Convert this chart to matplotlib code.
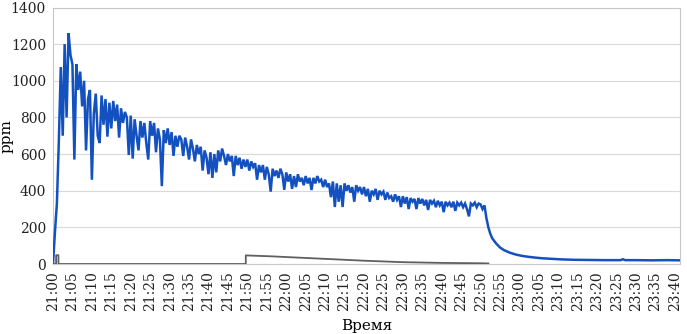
import numpy as np
import matplotlib
matplotlib.use('Agg')
import matplotlib.pyplot as plt

# ── Time axis: minutes after 21:00 ───────────────────────────────────────────
TICK_MINUTES = list(range(0, 161, 5))
TICK_LABELS = [f'{21 + (m // 60)}:{m % 60:02d}' for m in TICK_MINUTES]

# ── CO2, noisy part (one reading every half minute, 21:00 – 22:51:30) ───────
CO2_STEP = 0.5
CO2_NOISY = [
    0, 175, 330, 670, 1075, 700, 1200, 800, 1260, 1140,
    1090, 570, 1090, 950, 1050, 860, 1000, 620, 900, 950,
    460, 820, 930, 700, 660, 920, 760, 900, 695, 880,
    740, 890, 780, 870, 690, 850, 770, 830, 800, 595,
    810, 575, 790, 700, 620, 780, 690, 770, 660, 570,
    780, 700, 770, 610, 740, 680, 425, 730, 660, 740,
    650, 720, 590, 700, 640, 700, 680, 590, 690, 640,
    570, 680, 630, 560, 650, 600, 640, 510, 620, 580,
    490, 610, 470, 600, 500, 620, 560, 630, 590, 540,
    600, 560, 590, 480, 590, 540, 580, 520, 570, 530,
    570, 510, 560, 530, 550, 460, 540, 500, 540, 460,
    530, 490, 395, 520, 480, 510, 470, 520, 490, 405,
    500, 450, 490, 410, 480, 420, 490, 450, 470, 430,
    480, 440, 470, 404, 470, 440, 480, 450, 460, 420,
    460, 420, 440, 365, 450, 311, 440, 340, 430, 311,
    440, 400, 430, 390, 420, 340, 430, 400, 420, 380,
    420, 370, 410, 340, 400, 380, 410, 350, 400, 380,
    395, 350, 390, 360, 370, 340, 380, 350, 370, 311,
    370, 330, 365, 300, 360, 340, 355, 300, 360, 330,
    355, 320, 350, 295, 350, 330, 345, 310, 345, 320,
    340, 283, 340, 320, 335, 310, 340, 290, 335, 320,
    335, 310, 330, 300, 260, 330, 320, 335, 310, 330,
    325, 300, 320, 250,
]

# ── CO2, decay after 22:52 ───────────────────────────────────────────────────
CO2_TAIL_T = [112, 112.5, 113, 114, 115, 116, 117.5, 119, 120.5, 122,
              124, 126, 128.5, 131, 134, 138, 142, 146, 146.6, 147.2,
              150, 154, 158, 161]
CO2_TAIL_V = [200, 165, 140, 112, 90, 76, 62, 52, 45, 40,
              35, 31, 28, 25, 23, 22, 21, 21, 26, 21,
              21, 20, 21, 20]

# ── Second (grey) series ─────────────────────────────────────────────────────
GREY_T = [0, 0.8, 0.8, 1.4, 1.4, 49.6, 49.6, 52, 56, 60, 65, 70, 75,
          80, 85, 90, 95, 100, 105, 110, 112]
GREY_V = [0, 0, 48, 48, 0, 0, 47, 45, 42, 38, 33, 28, 23,
          18, 14, 10, 8, 6, 5, 4, 3]

COL_CO2 = '#1351c0'
COL_GREY = '#5f5f5f'
COL_GRID = '#d9d9d9'

plt.rcParams['font.family'] = ['DejaVu Serif']

fig = plt.figure(figsize=(6.87, 3.34), dpi=100)
ax = fig.add_axes([53 / 687, 70 / 334, 627 / 687, 256.5 / 334])

t_noisy = np.arange(len(CO2_NOISY)) * CO2_STEP
t_co2 = np.concatenate([t_noisy, CO2_TAIL_T])
v_co2 = np.concatenate([CO2_NOISY, CO2_TAIL_V])

ax.plot(t_co2, v_co2, color=COL_CO2, lw=1.8, zorder=3, solid_joinstyle='miter')
ax.plot(GREY_T, GREY_V, color=COL_GREY, lw=1.3, zorder=4)

ax.set_xlim(0, 161.3)
ax.set_ylim(0, 1400)
ax.set_yticks(range(0, 1401, 200))
ax.set_xticks(TICK_MINUTES)
ax.set_xticklabels(TICK_LABELS, rotation=90)
ax.tick_params(axis='both', length=0, labelsize=10, colors='#222222')
ax.tick_params(axis='x', pad=5)
ax.tick_params(axis='y', pad=5)

ax.grid(axis='y', color=COL_GRID, lw=0.8)
ax.set_axisbelow(True)
for s in ax.spines.values():
    s.set_color('#c8c8c8')
    s.set_linewidth(0.8)

ax.set_xlabel('Время', fontsize=11, labelpad=6)
ax.set_ylabel('ppm', fontsize=11, va='center')
ax.yaxis.set_label_coords(-46 / 627, 0.5)

fig.savefig('out.png', dpi=100)
